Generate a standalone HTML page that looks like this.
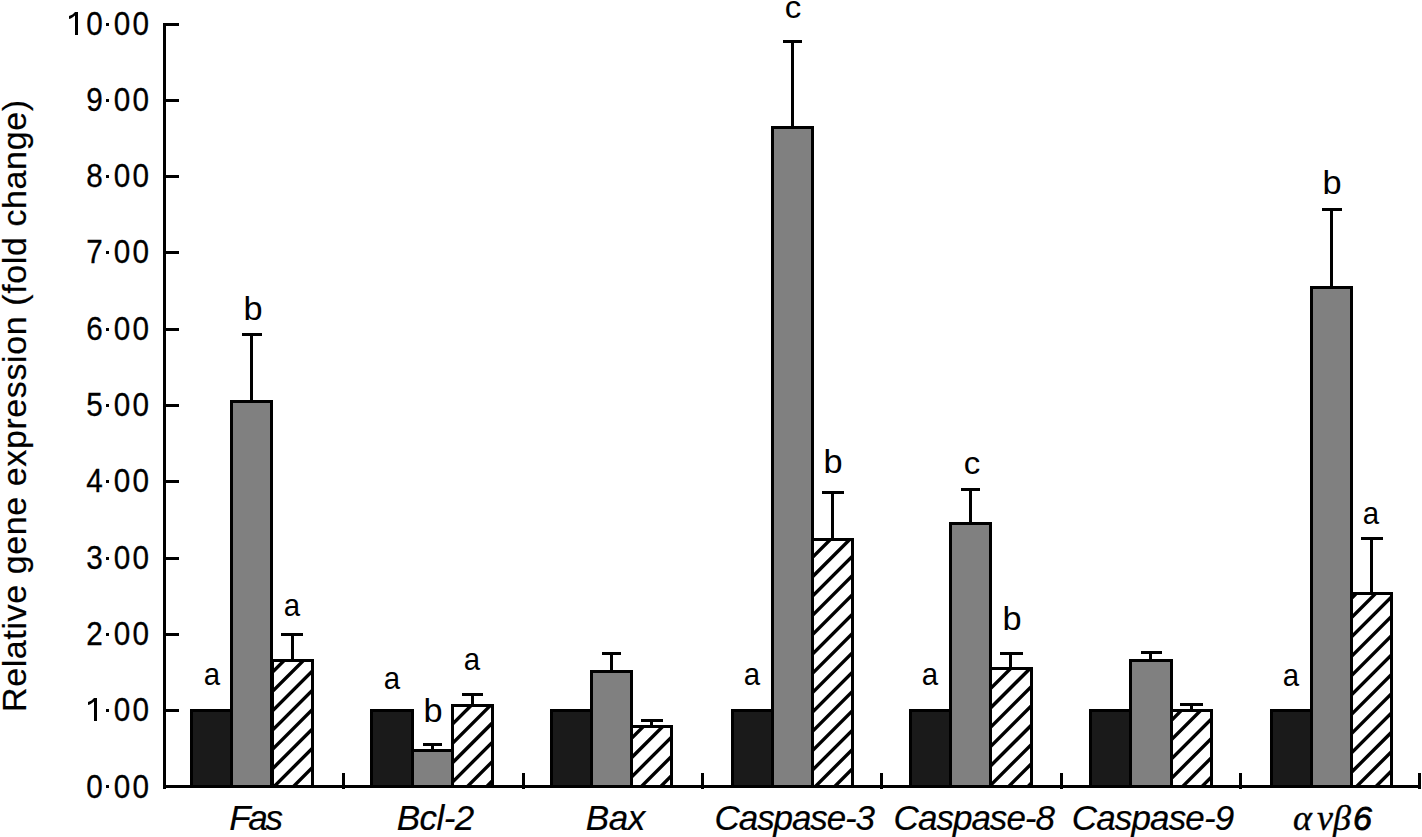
<!DOCTYPE html>
<html><head><meta charset="utf-8"><style>
html,body{margin:0;padding:0;background:#fff;}
body{width:1422px;height:837px;overflow:hidden;}
svg{display:block;font-family:"Liberation Sans", sans-serif;}
text.t{stroke:#000;stroke-width:0.3px}
text.x{stroke:#000;stroke-width:0.2px}
text.y{stroke:#000;stroke-width:0.2px}
</style></head><body>
<svg width="1422" height="837" viewBox="0 0 1422 837">
<defs><clipPath id="c0"><rect x="274" y="662" width="37" height="123"/></clipPath><clipPath id="c1"><rect x="454" y="707" width="37" height="78"/></clipPath><clipPath id="c2"><rect x="633" y="728" width="37" height="57"/></clipPath><clipPath id="c3"><rect x="814" y="541" width="37" height="244"/></clipPath><clipPath id="c4"><rect x="992" y="670" width="38" height="115"/></clipPath><clipPath id="c5"><rect x="1173" y="712" width="37" height="73"/></clipPath><clipPath id="c6"><rect x="1353" y="595" width="37" height="190"/></clipPath></defs>
<rect width="1422" height="837" fill="#fff"/>
<g shape-rendering="crispEdges"><rect x="193" y="712" width="37" height="73" fill="#1a1a1a"/><rect x="233" y="403" width="37" height="382" fill="#808080"/><rect x="274" y="662" width="37" height="123" fill="#fff"/><rect x="373" y="712" width="38" height="73" fill="#1a1a1a"/><rect x="414" y="752" width="37" height="33" fill="#808080"/><rect x="454" y="707" width="37" height="78" fill="#fff"/><rect x="553" y="712" width="37" height="73" fill="#1a1a1a"/><rect x="593" y="673" width="37" height="112" fill="#808080"/><rect x="633" y="728" width="37" height="57" fill="#fff"/><rect x="734" y="712" width="37" height="73" fill="#1a1a1a"/><rect x="774" y="129" width="37" height="656" fill="#808080"/><rect x="814" y="541" width="37" height="244" fill="#fff"/><rect x="912" y="712" width="37" height="73" fill="#1a1a1a"/><rect x="952" y="525" width="37" height="260" fill="#808080"/><rect x="992" y="670" width="38" height="115" fill="#fff"/><rect x="1092" y="712" width="37" height="73" fill="#1a1a1a"/><rect x="1132" y="662" width="38" height="123" fill="#808080"/><rect x="1173" y="712" width="37" height="73" fill="#fff"/><rect x="1273" y="712" width="37" height="73" fill="#1a1a1a"/><rect x="1313" y="289" width="37" height="496" fill="#808080"/><rect x="1353" y="595" width="37" height="190" fill="#fff"/></g>
<g><path clip-path="url(#c0)" d="M115.98 790L248.98 657M135.31 790L268.31 657M154.64 790L287.64 657M173.97 790L306.97 657M193.30 790L326.30 657M212.63 790L345.63 657M231.96 790L364.96 657M251.29 790L384.29 657M270.62 790L403.62 657M289.95 790L422.95 657M309.28 790L442.28 657M328.61 790L461.61 657" stroke="#000" stroke-width="3.4" fill="none"/><path clip-path="url(#c1)" d="M347.94 790L435.94 702M367.27 790L455.27 702M386.60 790L474.60 702M405.93 790L493.93 702M425.26 790L513.26 702M444.59 790L532.59 702M463.92 790L551.92 702M483.25 790L571.25 702M502.58 790L590.58 702M521.91 790L609.91 702" stroke="#000" stroke-width="3.4" fill="none"/><path clip-path="url(#c2)" d="M541.24 790L608.24 723M560.57 790L627.57 723M579.90 790L646.90 723M599.23 790L666.23 723M618.56 790L685.56 723M637.89 790L704.89 723M657.22 790L724.22 723M676.55 790L743.55 723M695.88 790L762.88 723" stroke="#000" stroke-width="3.4" fill="none"/><path clip-path="url(#c3)" d="M541.24 790L795.24 536M560.57 790L814.57 536M579.90 790L833.90 536M599.23 790L853.23 536M618.56 790L872.56 536M637.89 790L891.89 536M657.22 790L911.22 536M676.55 790L930.55 536M695.88 790L949.88 536M715.21 790L969.21 536M734.54 790L988.54 536M753.87 790L1007.87 536M773.20 790L1027.20 536M792.53 790L1046.53 536M811.86 790L1065.86 536M831.19 790L1085.19 536M850.52 790L1104.52 536M869.85 790L1123.85 536" stroke="#000" stroke-width="3.4" fill="none"/><path clip-path="url(#c4)" d="M850.52 790L975.52 665M869.85 790L994.85 665M889.18 790L1014.18 665M908.51 790L1033.51 665M927.84 790L1052.84 665M947.17 790L1072.17 665M966.50 790L1091.50 665M985.83 790L1110.83 665M1005.16 790L1130.16 665M1024.49 790L1149.49 665M1043.82 790L1168.82 665M1063.15 790L1188.15 665" stroke="#000" stroke-width="3.4" fill="none"/><path clip-path="url(#c5)" d="M1063.15 790L1146.15 707M1082.48 790L1165.48 707M1101.81 790L1184.81 707M1121.14 790L1204.14 707M1140.47 790L1223.47 707M1159.80 790L1242.80 707M1179.13 790L1262.13 707M1198.46 790L1281.46 707M1217.79 790L1300.79 707M1237.12 790L1320.12 707" stroke="#000" stroke-width="3.4" fill="none"/><path clip-path="url(#c6)" d="M1121.14 790L1321.14 590M1140.47 790L1340.47 590M1159.80 790L1359.80 590M1179.13 790L1379.13 590M1198.46 790L1398.46 590M1217.79 790L1417.79 590M1237.12 790L1437.12 590M1256.45 790L1456.45 590M1275.78 790L1475.78 590M1295.11 790L1495.11 590M1314.44 790L1514.44 590M1333.77 790L1533.77 590M1353.10 790L1553.10 590M1372.43 790L1572.43 590M1391.76 790L1591.76 590M1411.09 790L1611.09 590" stroke="#000" stroke-width="3.4" fill="none"/></g>
<g shape-rendering="crispEdges"><rect x="190" y="709" width="3" height="76" fill="#000"/><rect x="230" y="709" width="3" height="76" fill="#000"/><rect x="190" y="709" width="43" height="3" fill="#000"/><rect x="230" y="400" width="3" height="385" fill="#000"/><rect x="270" y="400" width="3" height="385" fill="#000"/><rect x="230" y="400" width="43" height="3" fill="#000"/><rect x="271" y="659" width="3" height="126" fill="#000"/><rect x="311" y="659" width="3" height="126" fill="#000"/><rect x="271" y="659" width="43" height="3" fill="#000"/><rect x="242" y="333" width="20" height="3" fill="#000"/><rect x="250" y="333" width="3" height="67" fill="#000"/><rect x="281" y="633" width="22" height="3" fill="#000"/><rect x="291" y="633" width="3" height="26" fill="#000"/><rect x="370" y="709" width="3" height="76" fill="#000"/><rect x="411" y="709" width="3" height="76" fill="#000"/><rect x="370" y="709" width="44" height="3" fill="#000"/><rect x="411" y="749" width="3" height="36" fill="#000"/><rect x="451" y="749" width="3" height="36" fill="#000"/><rect x="411" y="749" width="43" height="3" fill="#000"/><rect x="451" y="704" width="3" height="81" fill="#000"/><rect x="491" y="704" width="3" height="81" fill="#000"/><rect x="451" y="704" width="43" height="3" fill="#000"/><rect x="423" y="743" width="19" height="3" fill="#000"/><rect x="431" y="743" width="3" height="6" fill="#000"/><rect x="462" y="693" width="21" height="3" fill="#000"/><rect x="471" y="693" width="3" height="11" fill="#000"/><rect x="550" y="709" width="3" height="76" fill="#000"/><rect x="590" y="709" width="3" height="76" fill="#000"/><rect x="550" y="709" width="43" height="3" fill="#000"/><rect x="590" y="670" width="3" height="115" fill="#000"/><rect x="630" y="670" width="3" height="115" fill="#000"/><rect x="590" y="670" width="43" height="3" fill="#000"/><rect x="630" y="725" width="3" height="60" fill="#000"/><rect x="670" y="725" width="3" height="60" fill="#000"/><rect x="630" y="725" width="43" height="3" fill="#000"/><rect x="602" y="652" width="19" height="3" fill="#000"/><rect x="610" y="652" width="3" height="18" fill="#000"/><rect x="641" y="719" width="22" height="3" fill="#000"/><rect x="650" y="719" width="3" height="6" fill="#000"/><rect x="731" y="709" width="3" height="76" fill="#000"/><rect x="771" y="709" width="3" height="76" fill="#000"/><rect x="731" y="709" width="43" height="3" fill="#000"/><rect x="771" y="126" width="3" height="659" fill="#000"/><rect x="811" y="126" width="3" height="659" fill="#000"/><rect x="771" y="126" width="43" height="3" fill="#000"/><rect x="811" y="538" width="3" height="247" fill="#000"/><rect x="851" y="538" width="3" height="247" fill="#000"/><rect x="811" y="538" width="43" height="3" fill="#000"/><rect x="783" y="40" width="19" height="3" fill="#000"/><rect x="791" y="40" width="3" height="86" fill="#000"/><rect x="822" y="491" width="22" height="3" fill="#000"/><rect x="831" y="491" width="3" height="47" fill="#000"/><rect x="909" y="709" width="3" height="76" fill="#000"/><rect x="949" y="709" width="3" height="76" fill="#000"/><rect x="909" y="709" width="43" height="3" fill="#000"/><rect x="949" y="522" width="3" height="263" fill="#000"/><rect x="989" y="522" width="3" height="263" fill="#000"/><rect x="949" y="522" width="43" height="3" fill="#000"/><rect x="989" y="667" width="3" height="118" fill="#000"/><rect x="1030" y="667" width="3" height="118" fill="#000"/><rect x="989" y="667" width="44" height="3" fill="#000"/><rect x="961" y="488" width="19" height="3" fill="#000"/><rect x="969" y="488" width="3" height="34" fill="#000"/><rect x="1000" y="652" width="23" height="3" fill="#000"/><rect x="1009" y="652" width="3" height="15" fill="#000"/><rect x="1089" y="709" width="3" height="76" fill="#000"/><rect x="1129" y="709" width="3" height="76" fill="#000"/><rect x="1089" y="709" width="43" height="3" fill="#000"/><rect x="1129" y="659" width="3" height="126" fill="#000"/><rect x="1170" y="659" width="3" height="126" fill="#000"/><rect x="1129" y="659" width="44" height="3" fill="#000"/><rect x="1170" y="709" width="3" height="76" fill="#000"/><rect x="1210" y="709" width="3" height="76" fill="#000"/><rect x="1170" y="709" width="43" height="3" fill="#000"/><rect x="1141" y="651" width="21" height="3" fill="#000"/><rect x="1149" y="651" width="3" height="8" fill="#000"/><rect x="1180" y="703" width="23" height="3" fill="#000"/><rect x="1190" y="703" width="3" height="6" fill="#000"/><rect x="1270" y="709" width="3" height="76" fill="#000"/><rect x="1310" y="709" width="3" height="76" fill="#000"/><rect x="1270" y="709" width="43" height="3" fill="#000"/><rect x="1310" y="286" width="3" height="499" fill="#000"/><rect x="1350" y="286" width="3" height="499" fill="#000"/><rect x="1310" y="286" width="43" height="3" fill="#000"/><rect x="1350" y="592" width="3" height="193" fill="#000"/><rect x="1390" y="592" width="3" height="193" fill="#000"/><rect x="1350" y="592" width="43" height="3" fill="#000"/><rect x="1322" y="208" width="20" height="3" fill="#000"/><rect x="1330" y="208" width="3" height="78" fill="#000"/><rect x="1361" y="537" width="22" height="3" fill="#000"/><rect x="1370" y="537" width="3" height="55" fill="#000"/><rect x="163" y="23" width="3" height="766" fill="#000"/><rect x="163" y="785" width="1258" height="3" fill="#000"/><rect x="163" y="23" width="16" height="3" fill="#000"/><rect x="163" y="99" width="16" height="3" fill="#000"/><rect x="163" y="175" width="16" height="3" fill="#000"/><rect x="163" y="251" width="16" height="3" fill="#000"/><rect x="163" y="328" width="16" height="3" fill="#000"/><rect x="163" y="404" width="16" height="3" fill="#000"/><rect x="163" y="480" width="16" height="3" fill="#000"/><rect x="163" y="557" width="16" height="3" fill="#000"/><rect x="163" y="633" width="16" height="3" fill="#000"/><rect x="163" y="709" width="16" height="3" fill="#000"/><rect x="163" y="785" width="16" height="3" fill="#000"/><rect x="342" y="773" width="3" height="16" fill="#000"/><rect x="522" y="773" width="3" height="16" fill="#000"/><rect x="701" y="773" width="3" height="16" fill="#000"/><rect x="880" y="773" width="3" height="16" fill="#000"/><rect x="1060" y="773" width="3" height="16" fill="#000"/><rect x="1239" y="773" width="3" height="16" fill="#000"/><rect x="1418" y="773" width="3" height="16" fill="#000"/><rect x="106" y="23" width="3" height="3" fill="#000"/><rect x="106" y="99" width="3" height="3" fill="#000"/><rect x="106" y="175" width="3" height="3" fill="#000"/><rect x="106" y="251" width="3" height="3" fill="#000"/><rect x="106" y="328" width="3" height="3" fill="#000"/><rect x="106" y="404" width="3" height="3" fill="#000"/><rect x="106" y="480" width="3" height="3" fill="#000"/><rect x="106" y="557" width="3" height="3" fill="#000"/><rect x="106" y="633" width="3" height="3" fill="#000"/><rect x="106" y="709" width="3" height="3" fill="#000"/><rect x="106" y="785" width="3" height="3" fill="#000"/></g>
<g fill="#000" stroke="#000" stroke-width="0"><text class="t" transform="translate(94.45,35.2) scale(0.9,1)" text-anchor="middle" font-size="33">0</text><text class="t" transform="translate(122,35.2) scale(0.9,1)" text-anchor="middle" font-size="33">0</text><text class="t" transform="translate(140.7,35.2) scale(0.9,1)" text-anchor="middle" font-size="33">0</text><text class="t" transform="translate(94.45,111.2) scale(0.9,1)" text-anchor="middle" font-size="33">9</text><text class="t" transform="translate(122,111.2) scale(0.9,1)" text-anchor="middle" font-size="33">0</text><text class="t" transform="translate(140.7,111.2) scale(0.9,1)" text-anchor="middle" font-size="33">0</text><text class="t" transform="translate(94.45,187.2) scale(0.9,1)" text-anchor="middle" font-size="33">8</text><text class="t" transform="translate(122,187.2) scale(0.9,1)" text-anchor="middle" font-size="33">0</text><text class="t" transform="translate(140.7,187.2) scale(0.9,1)" text-anchor="middle" font-size="33">0</text><text class="t" transform="translate(94.45,263.2) scale(0.9,1)" text-anchor="middle" font-size="33">7</text><text class="t" transform="translate(122,263.2) scale(0.9,1)" text-anchor="middle" font-size="33">0</text><text class="t" transform="translate(140.7,263.2) scale(0.9,1)" text-anchor="middle" font-size="33">0</text><text class="t" transform="translate(94.45,340.2) scale(0.9,1)" text-anchor="middle" font-size="33">6</text><text class="t" transform="translate(122,340.2) scale(0.9,1)" text-anchor="middle" font-size="33">0</text><text class="t" transform="translate(140.7,340.2) scale(0.9,1)" text-anchor="middle" font-size="33">0</text><text class="t" transform="translate(94.45,416.2) scale(0.9,1)" text-anchor="middle" font-size="33">5</text><text class="t" transform="translate(122,416.2) scale(0.9,1)" text-anchor="middle" font-size="33">0</text><text class="t" transform="translate(140.7,416.2) scale(0.9,1)" text-anchor="middle" font-size="33">0</text><text class="t" transform="translate(94.45,492.2) scale(0.9,1)" text-anchor="middle" font-size="33">4</text><text class="t" transform="translate(122,492.2) scale(0.9,1)" text-anchor="middle" font-size="33">0</text><text class="t" transform="translate(140.7,492.2) scale(0.9,1)" text-anchor="middle" font-size="33">0</text><text class="t" transform="translate(94.45,569.2) scale(0.9,1)" text-anchor="middle" font-size="33">3</text><text class="t" transform="translate(122,569.2) scale(0.9,1)" text-anchor="middle" font-size="33">0</text><text class="t" transform="translate(140.7,569.2) scale(0.9,1)" text-anchor="middle" font-size="33">0</text><text class="t" transform="translate(94.45,645.2) scale(0.9,1)" text-anchor="middle" font-size="33">2</text><text class="t" transform="translate(122,645.2) scale(0.9,1)" text-anchor="middle" font-size="33">0</text><text class="t" transform="translate(140.7,645.2) scale(0.9,1)" text-anchor="middle" font-size="33">0</text><text class="t" transform="translate(122,721.2) scale(0.9,1)" text-anchor="middle" font-size="33">0</text><text class="t" transform="translate(140.7,721.2) scale(0.9,1)" text-anchor="middle" font-size="33">0</text><text class="t" transform="translate(94.45,798.2) scale(0.9,1)" text-anchor="middle" font-size="33">0</text><text class="t" transform="translate(122,798.2) scale(0.9,1)" text-anchor="middle" font-size="33">0</text><text class="t" transform="translate(140.7,798.2) scale(0.9,1)" text-anchor="middle" font-size="33">0</text><text transform="translate(212,685) scale(0.92,1)" text-anchor="middle" font-size="32">a</text><text transform="translate(253,320) scale(1.04,1)" text-anchor="middle" font-size="33">b</text><text transform="translate(292,616) scale(0.92,1)" text-anchor="middle" font-size="32">a</text><text transform="translate(392,689) scale(0.92,1)" text-anchor="middle" font-size="32">a</text><text transform="translate(433,722) scale(1.04,1)" text-anchor="middle" font-size="33">b</text><text transform="translate(472,670) scale(0.92,1)" text-anchor="middle" font-size="32">a</text><text transform="translate(752,685) scale(0.92,1)" text-anchor="middle" font-size="32">a</text><text transform="translate(793,18) scale(1.03,1)" text-anchor="middle" font-size="32">c</text><text transform="translate(833,473) scale(1.04,1)" text-anchor="middle" font-size="33">b</text><text transform="translate(930,685) scale(0.92,1)" text-anchor="middle" font-size="32">a</text><text transform="translate(972,474) scale(1.03,1)" text-anchor="middle" font-size="32">c</text><text transform="translate(1012,630) scale(1.04,1)" text-anchor="middle" font-size="33">b</text><text transform="translate(1291,686) scale(0.92,1)" text-anchor="middle" font-size="32">a</text><text transform="translate(1332,194) scale(1.04,1)" text-anchor="middle" font-size="33">b</text><text transform="translate(1371,524) scale(0.92,1)" text-anchor="middle" font-size="32">a</text><text class="x" x="256.15" y="830" text-anchor="middle" font-size="35" font-style="italic" textLength="53.70" lengthAdjust="spacing">Fas</text><text class="x" x="435.50" y="830" text-anchor="middle" font-size="35" font-style="italic" textLength="77.50" lengthAdjust="spacing">Bcl-2</text><text class="x" x="615.45" y="830" text-anchor="middle" font-size="35" font-style="italic" textLength="59.60" lengthAdjust="spacing">Bax</text><text class="x" x="794.80" y="830" text-anchor="middle" font-size="35" font-style="italic" textLength="160.40" lengthAdjust="spacing">Caspase-3</text><text class="x" x="974.30" y="830" text-anchor="middle" font-size="35" font-style="italic" textLength="161.40" lengthAdjust="spacing">Caspase-8</text><text class="x" x="1152.95" y="830" text-anchor="middle" font-size="35" font-style="italic" textLength="162.40" lengthAdjust="spacing">Caspase-9</text><text y="830" font-style="italic" stroke="#000" stroke-width="0.35"><tspan x="1293" font-size="36" font-family="Liberation Serif, serif">α</tspan><tspan x="1317" font-size="36" font-family="Liberation Serif, serif">v</tspan><tspan x="1333" font-size="36" font-family="Liberation Serif, serif">β</tspan></text><text y="830" font-style="italic" stroke="#000" stroke-width="0.8" x="1353" font-size="34">6</text><text class="y" transform="translate(26,712) rotate(-90)" x="0" y="0" font-size="34" textLength="612.00" lengthAdjust="spacing">Relative gene expression (fold change)</text></g>
<g fill="#000"><path d="M75 12h3v23h-3V15.5c-1.5 1.6 -3.5 2.8 -6 3.5v-3c2.6 -0.9 4.6 -2 6 -4z"/><path d="M94 698h3v23h-3V701.5c-1.5 1.6 -3.5 2.8 -6 3.5v-3c2.6 -0.9 4.6 -2 6 -4z"/></g>
</svg>
</body></html>
